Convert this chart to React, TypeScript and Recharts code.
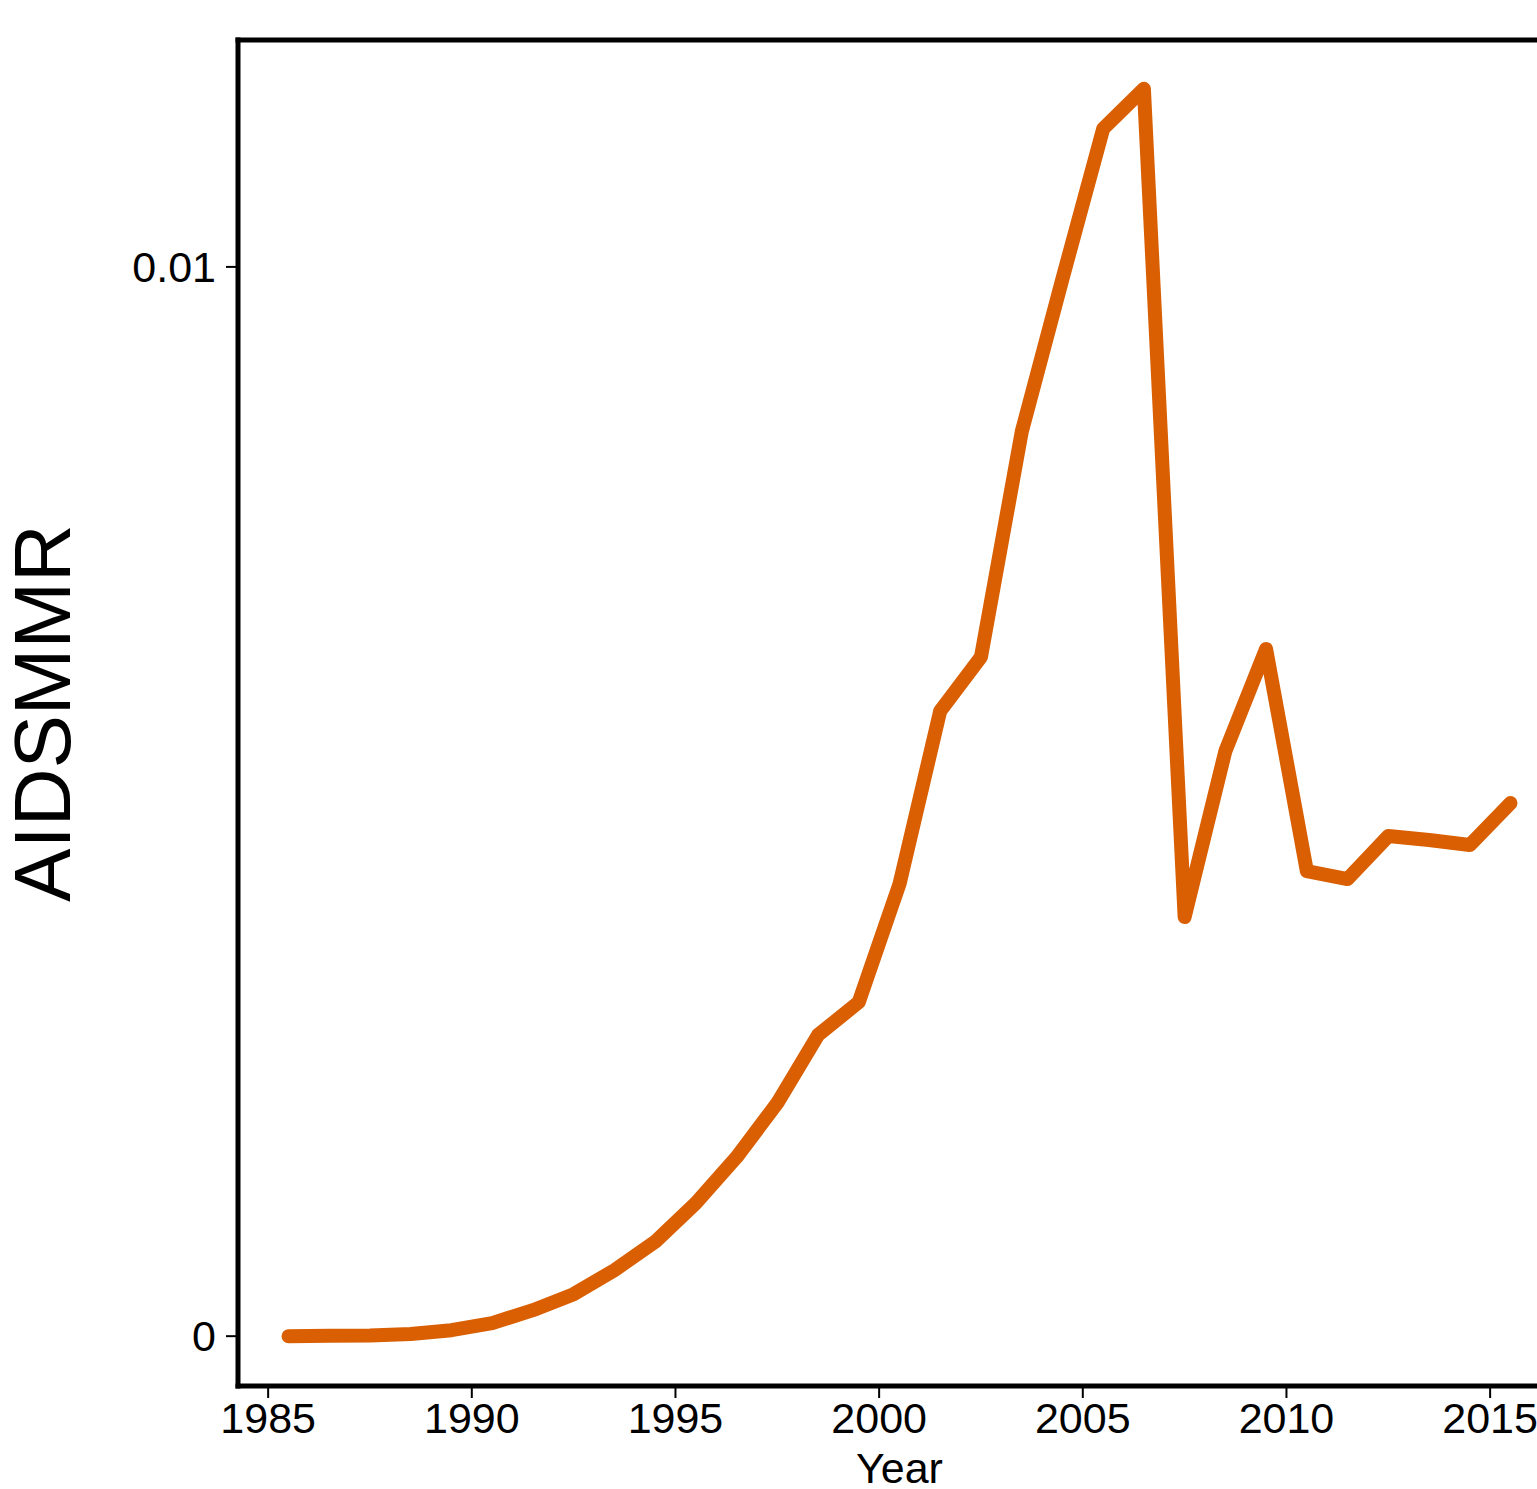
import React from 'react';
import { LineChart, Line, XAxis, YAxis, ReferenceLine } from 'recharts';

const years = [
  1985.5, 1986.5, 1987.5, 1988.5, 1989.5, 1990.5, 1991.5, 1992.5, 1993.5, 1994.5,
  1995.5, 1996.5, 1997.5, 1998.5, 1999.5, 2000.5, 2001.5, 2002.5, 2003.5, 2004.5,
  2005.5, 2006.5, 2007.5, 2008.5, 2009.5, 2010.5, 2011.5, 2012.5, 2013.5, 2014.5,
  2015.5,
];

const aidsmmr = [
  0.0, 0.000003, 0.000007, 0.00002, 0.000056, 0.000122, 0.000243, 0.000393, 0.000617, 0.000882,
  0.001244, 0.001674, 0.00218, 0.002816, 0.003124, 0.004228, 0.005847, 0.006352, 0.008457, 0.009888,
  0.011291, 0.011665, 0.00392, 0.005472, 0.006427, 0.00435, 0.004275, 0.004677, 0.00464, 0.004593,
  0.004986,
];

const xTicks = [1985, 1990, 1995, 2000, 2005, 2010, 2015];
const yTicks = [0, 0.01];
const xLabel = 'Year';
const yLabel = 'AIDSMMR';

const data = years.map((y, i) => ({ year: y, value: aidsmmr[i] }));

const FONT = '"Liberation Sans", Arial, Helvetica, sans-serif';
const xDomain: [number, number] = [1984.26, 2016.74];
const yDomain: [number, number] = [-0.000466, 0.012122];

const YLabel = (props: any) => {
  const vb = props.viewBox || {};
  const cx = (vb.x || 0) + 42;
  const cy = (vb.y || 0) + (vb.height || 0) / 2;
  return (
    <text
      x={cx}
      y={cy}
      transform={`rotate(-90, ${cx}, ${cy})`}
      textAnchor="middle"
      dominantBaseline="central"
      fontFamily={FONT}
      fontSize={80}
      fill="#000"
    >
      {yLabel}
    </text>
  );
};

const frame = { stroke: '#000', strokeWidth: 5, strokeLinecap: 'square' as const };

export default function App() {
  return (
    <div
      style={{
        position: 'absolute',
        left: 0,
        top: 0,
        width: 1537,
        height: 1489,
        overflow: 'hidden',
        background: '#fff',
      }}
    >
      <LineChart
        width={1600}
        height={1489}
        data={data}
        margin={{ top: 40, right: 39, bottom: 0, left: 0 }}
      >
        <XAxis
          type="number"
          dataKey="year"
          domain={xDomain}
          allowDataOverflow
          ticks={xTicks}
          interval={0}
          height={103}
          tickSize={12}
          tickMargin={4}
          axisLine={false}
          tickLine={{ stroke: '#000', strokeWidth: 2 }}
          tick={{ fill: '#000', fontSize: 43, fontFamily: FONT }}
          label={{
            value: xLabel,
            position: 'insideBottom',
            offset: 6,
            fill: '#000',
            fontSize: 43,
            fontFamily: FONT,
          }}
        />
        <YAxis
          type="number"
          domain={yDomain}
          allowDataOverflow
          ticks={yTicks}
          interval={0}
          width={238}
          tickSize={12}
          tickMargin={10}
          tickFormatter={(v: number) => String(v)}
          axisLine={false}
          tickLine={{ stroke: '#000', strokeWidth: 2 }}
          tick={{ fill: '#000', fontSize: 43, fontFamily: FONT }}
          label={<YLabel />}
        />
        <ReferenceLine y={yDomain[1]} {...frame} ifOverflow="visible" />
        <ReferenceLine y={yDomain[0]} {...frame} ifOverflow="visible" />
        <ReferenceLine x={xDomain[0]} {...frame} ifOverflow="visible" />
        <ReferenceLine x={xDomain[1]} {...frame} ifOverflow="visible" />
        <Line
          type="linear"
          dataKey="value"
          stroke="#D95F02"
          strokeWidth={14}
          strokeLinecap="round"
          strokeLinejoin="round"
          dot={false}
          activeDot={false}
          isAnimationActive={false}
        />
      </LineChart>
    </div>
  );
}
